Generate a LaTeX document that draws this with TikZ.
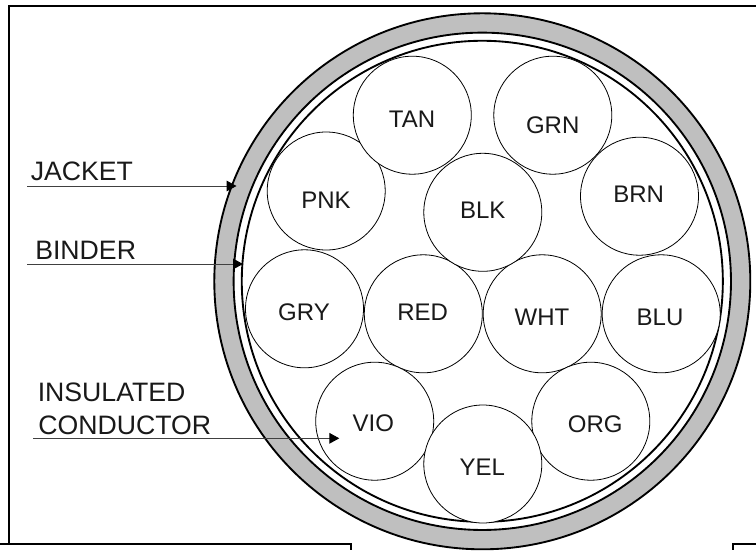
\documentclass[tikz,border=0pt]{standalone}
\usepackage{fontspec}
\setmainfont{Liberation Sans}
\usetikzlibrary{arrows.meta}
\tikzset{
  px/.style={x=0.75pt,y=-0.75pt},
  frameline/.style={draw=black,line width=1.3pt},
  ring/.style={draw=black,line width=1.4pt},
  wire/.style={circle,draw=black,fill=white,line width=0.6pt,minimum size=88.5pt,inner sep=0pt},
  wiretext/.style={inner sep=0pt,font=\fontsize{18}{18}\selectfont,text=black!90},
  lbl/.style={inner sep=0pt,anchor=base west,font=\fontsize{20}{24}\selectfont,text=black!90},
  leader/.style={draw=black!75,line width=0.75pt,-{Triangle[length=7.5pt,width=8pt,black]}}
}
\begin{document}
\begin{tikzpicture}[px]
\useasboundingbox (0,0) rectangle (756,550);
\draw[frameline] (756,6) -- (9,6) -- (9,544);
\draw[frameline] (0,544) -- (351,544) -- (351,550);
\draw[frameline] (756,544) -- (733,544) -- (733,550);
\coordinate (c) at (482.3,281.3);
\path[fill=black!25,even odd rule] (c) circle[radius=201pt] (c) circle[radius=186.5pt];
\draw[ring] (c) circle[radius=201pt];
\draw[ring] (c) circle[radius=186.5pt];
\draw[ring] (c) circle[radius=180.4pt];
\node[wire] (gry) at (304.5,308.8) {};
\node[wire] (red) at (423.3,313.8) {};
\node[wire] (wht) at (542.2,313.8) {};
\node[wire] (blu) at (661.2,313.8) {};
\node[wire] (pnk) at (326.2,191) {};
\node[wire] (tan) at (412.3,115.2) {};
\node[wire] (grn) at (552.8,115.2) {};
\node[wire] (brn) at (639.5,196.2) {};
\node[wire] (blk) at (482.8,212.3) {};
\node[wire] (vio) at (374.7,421.2) {};
\node[wire] (org) at (590.8,421.2) {};
\node[wire] (yel) at (482.8,464) {};
\node[wiretext] (tant) at (412,119.3) {TAN};
\node[wiretext] (grnt) at (552.7,125.3) {GRN};
\node[wiretext] (pnkt) at (326,200.3) {PNK};
\node[wiretext] (blkt) at (482.7,210.3) {BLK};
\node[wiretext] (brnt) at (638.7,194.3) {BRN};
\node[wiretext] (gryt) at (304,312.3) {GRY};
\node[wiretext] (redt) at (422.7,312.3) {RED};
\node[wiretext] (whtt) at (542,317) {WHT};
\node[wiretext] (blut) at (660,317) {BLU};
\node[wiretext] (viot) at (373.3,423.3) {VIO};
\node[wiretext] (orgt) at (595.3,424) {ORG};
\node[wiretext] (yelt) at (482.3,467) {YEL};
\node[lbl] (jacket) at (30.5,180) {JACKET};
\node[lbl] (binder) at (35,259) {BINDER};
\node[lbl] (ins) at (37.5,401.7) {INSULATED};
\node[lbl] (cond) at (38,434) {CONDUCTOR};
\coordinate (j0) at (27,186);
\coordinate (j1) at (236.5,186);
\coordinate (b0) at (27,264);
\coordinate (b1) at (243,264);
\coordinate (i0) at (33,438.3);
\coordinate (i1) at (339.3,438.3);
\draw[leader] (j0) -- (j1);
\draw[leader] (b0) -- (b1);
\draw[leader] (i0) -- (i1);
\end{tikzpicture}
\end{document}
